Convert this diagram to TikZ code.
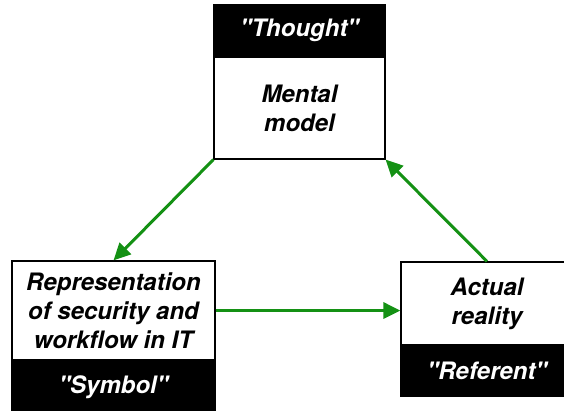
\documentclass[tikz,border=0pt]{standalone}
\usepackage{fontspec}
\setmainfont{TeX Gyre Heros}[Ligatures=TeXOff]
\usepackage{tikz}
\usetikzlibrary{arrows.meta,positioning}
\definecolor{linkgreen}{RGB}{20,145,20}
\tikzset{
    whitebox/.style={draw=black, line width=1.2pt, fill=white, align=center,
        font=\fontsize{24}{29}\selectfont\bfseries\itshape, inner sep=0pt},
    tabbox/.style={draw=black, line width=1.2pt, fill=black, text=white, align=center,
        font=\fontsize{24}{29}\selectfont\bfseries\itshape, inner sep=0pt},
    link/.style={draw=linkgreen, line width=3pt, -{Triangle[length=17pt,width=16pt]}},
}
\begin{document}
\begin{tikzpicture}[x=1pt, y=-1pt]
    \useasboundingbox (0,0) rectangle (564,410);
    % the three corners
    \node[whitebox, minimum width=171pt, minimum height=102pt] (mental) at (299.5,108) {Mental\\model};
    \node[whitebox, minimum width=203pt, minimum height=99pt] (repr) at (113.5,310.5) {Representation\\of security and\\workflow in IT};
    \node[whitebox, minimum width=172pt, minimum height=83pt] (actual) at (487,303.5) {Actual\\reality};
    % black tabs
    \node[tabbox, minimum width=171pt, minimum height=51pt, above=0pt of mental] (thought) {"Thought"};
    \node[tabbox, minimum width=203pt, minimum height=52pt, below=0pt of repr] (symbol) {"Symbol"};
    \node[tabbox, minimum width=172pt, minimum height=50pt, below=0pt of actual] (referent) {"Referent"};
    % arrows
    \draw[link] (mental.south west) -- (repr.north);
    \draw[link] (repr.east) -- (repr.east -| actual.west);
    \draw[link] (actual.north) -- (mental.south east);
\end{tikzpicture}
\end{document}
